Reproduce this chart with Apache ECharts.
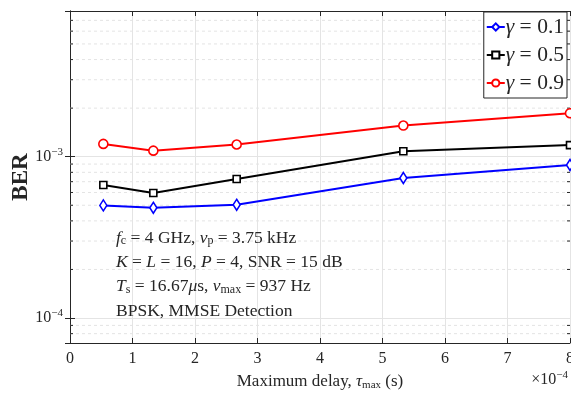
<!DOCTYPE html>
<html>
<head>
<meta charset="utf-8">
<script src="https://cdn.jsdelivr.net/npm/echarts@6/dist/echarts.min.js"></script>
<style>
  html, body { margin: 0; padding: 0; background: #fff; }
  #chart { width: 571px; height: 395px; }
</style>
</head>
<body>
<div id="chart"></div>
<script>
// Maximum delay τmax, in units of 1e-4 s
const delays = [0.5333, 1.3333, 2.6667, 5.3333, 8.0];
// BER for each power-split factor γ
const berG01 = [4.99e-4, 4.82e-4, 5.03e-4, 7.38e-4, 8.88e-4];
const berG05 = [6.67e-4, 5.95e-4, 7.27e-4, 1.08e-3, 1.18e-3];
const berG09 = [1.20e-3, 1.09e-3, 1.19e-3, 1.56e-3, 1.86e-3];
const seriesNames = ['γ = 0.1', 'γ = 0.5', 'γ = 0.9'];
// axis ranges and log-axis minor positions
const xTicks = [0, 1, 2, 3, 4, 5, 6, 7, 8];
const yMin = 7e-5, yMax = 8e-3;
const yMinor = [8e-5, 9e-5,
  2e-4, 3e-4, 4e-4, 5e-4, 6e-4, 7e-4, 8e-4, 9e-4,
  2e-3, 3e-3, 4e-3, 5e-3, 6e-3, 7e-3];

const SERIF = '"Liberation Serif", "DejaVu Serif", serif';
const INK = '#262626';
const GRID = '#e4e4e4';

const supRich = {
  b: { fontFamily: SERIF, fontSize: 16, color: INK },
  s: { fontFamily: SERIF, fontSize: 11, color: INK, verticalAlign: 'bottom', padding: [0, 0, 9, 0] }
};

function pow10Label(v) {
  const e = Math.round(Math.log10(v));
  return '{b|10}{s|−' + Math.abs(e) + '}';
}

function lineSeries(name, values, color, symbol, size) {
  return {
    name: name,
    type: 'line',
    data: delays.map((x, i) => [x, values[i]]),
    symbol: symbol,
    symbolSize: size,
    showAllSymbol: true,
    lineStyle: { color: color, width: 2 },
    itemStyle: { color: '#fff', borderColor: color, borderWidth: 1.6 },
    emphasis: { disabled: true },
    z: 3
  };
}

const chart = echarts.init(document.getElementById('chart'), null, { renderer: 'canvas' });

const option = {
  animation: false,
  backgroundColor: '#fff',
  grid: { left: 70, right: 1, top: 11, bottom: 52, containLabel: false, outerBoundsMode: 'none' },
  xAxis: [{
    type: 'value', min: xTicks[0], max: xTicks[xTicks.length - 1], interval: 1,
    axisLine: { show: true, lineStyle: { color: INK, width: 1 } },
    axisTick: { show: true, inside: true, length: 5, lineStyle: { color: INK } },
    axisLabel: { color: INK, fontFamily: SERIF, fontSize: 16, margin: 8 },
    splitLine: { show: true, lineStyle: { color: GRID, width: 1 } },
    name: '{t|Maximum delay, }{i|τ}{sub|max}{t| (s)}',
    nameLocation: 'middle', nameGap: 29, nameMoveOverlap: false,
    nameTextStyle: {
      rich: {
        t: { fontFamily: SERIF, fontSize: 17, color: INK },
        i: { fontFamily: SERIF, fontSize: 17, fontStyle: 'italic', color: INK },
        sub: { fontFamily: SERIF, fontSize: 11, color: INK, verticalAlign: 'top', padding: [8, 0, 0, 0] }
      }
    }
  }, {
    type: 'value', position: 'top', min: xTicks[0], max: xTicks[xTicks.length - 1], interval: 1,
    axisLine: { show: true, lineStyle: { color: INK, width: 1 } },
    axisTick: { show: true, inside: true, length: 5, lineStyle: { color: INK } },
    axisLabel: { show: false },
    splitLine: { show: false }
  }],
  yAxis: [{
    type: 'log', logBase: 10, min: yMin, max: yMax,
    axisLine: { show: true, lineStyle: { color: INK, width: 1 } },
    axisTick: { show: true, inside: true, length: 5, lineStyle: { color: INK } },
    axisLabel: {
      formatter: pow10Label, rich: supRich, margin: 7,
      showMinLabel: false, showMaxLabel: false
    },
    splitLine: { show: true, lineStyle: { color: GRID, width: 1 } },
    name: 'BER', nameLocation: 'middle', nameRotate: 90, nameGap: 37, nameMoveOverlap: false,
    nameTextStyle: { fontFamily: SERIF, fontSize: 23, fontWeight: 'bold', color: INK }
  }, {
    type: 'log', logBase: 10, min: yMin, max: yMax, position: 'right',
    axisLine: { show: true, lineStyle: { color: INK, width: 1 } },
    axisTick: { show: true, inside: true, length: 5, lineStyle: { color: INK } },
    axisLabel: { show: false },
    splitLine: { show: false }
  }],
  legend: {
    data: seriesNames,
    orient: 'vertical',
    right: 4, top: 12,
    backgroundColor: '#fff',
    borderColor: INK, borderWidth: 1, borderRadius: 0,
    padding: [4, 3, 4, 2],
    itemGap: 6, itemWidth: 18, itemHeight: 9,
    formatter: function (name) { return '{g|γ}' + name.slice(1); },
    textStyle: {
      fontFamily: SERIF, fontSize: 21.5, color: INK, padding: [0, 0, 0, -4],
      rich: { g: { fontFamily: SERIF, fontSize: 21.5, fontStyle: 'italic', color: INK } }
    }
  },
  series: [
    {
      type: 'custom',
      silent: true,
      z: 1,
      data: yMinor.map(v => [0, v]),
      renderItem: function (params, api) {
        const cs = params.coordSys;
        const y = api.coord([0, api.value(1)])[1];
        return {
          type: 'group',
          children: [
            { type: 'line', shape: { x1: cs.x, y1: y, x2: cs.x + cs.width, y2: y },
              style: { stroke: GRID, lineWidth: 1, lineDash: [3, 3] } },
            { type: 'line', shape: { x1: cs.x, y1: y, x2: cs.x + 3, y2: y },
              style: { stroke: INK, lineWidth: 1 } },
            { type: 'line', shape: { x1: cs.x + cs.width - 3, y1: y, x2: cs.x + cs.width, y2: y },
              style: { stroke: INK, lineWidth: 1 } }
          ]
        };
      }
    },
    lineSeries(seriesNames[0], berG01, '#0000ff', 'diamond', [7, 11]),
    lineSeries(seriesNames[1], berG05, '#000000', 'rect', [7, 7]),
    lineSeries(seriesNames[2], berG09, '#ff0000', 'circle', [9, 9])
  ],
  graphic: [
    {
      type: 'text', left: 116, top: 226, z: 10,
      style: {
        text: '{i|f}{sub|c}{t| = 4 GHz, }{i|ν}{sub|p}{t| = 3.75 kHz}\n' +
              '{i|K}{t| = }{i|L}{t| = 16, }{i|P}{t| = 4, SNR = 15 dB}\n' +
              '{i|T}{sub|s}{t| = 16.67}{i|μ}{t|s, }{i|ν}{sub|max}{t| = 937 Hz}\n' +
              '{t|BPSK, MMSE Detection}',
        lineHeight: 24.3,
        rich: {
          t: { fontFamily: SERIF, fontSize: 17.5, fill: INK, lineHeight: 24.3 },
          i: { fontFamily: SERIF, fontSize: 17.5, fontStyle: 'italic', fill: INK, lineHeight: 24.3 },
          sub: { fontFamily: SERIF, fontSize: 12, fill: INK, lineHeight: 24.3, verticalAlign: 'top', padding: [9, 0, 0, 0] }
        }
      }
    },
    {
      type: 'text', right: 3, top: 370, z: 10,
      style: {
        text: '{t|×10}{s|−4}',
        rich: {
          t: { fontFamily: SERIF, fontSize: 16, fill: INK },
          s: { fontFamily: SERIF, fontSize: 11, fill: INK, verticalAlign: 'bottom', padding: [0, 0, 8, 0] }
        }
      }
    }
  ]
};

chart.setOption(option);
</script>
</body>
</html>
